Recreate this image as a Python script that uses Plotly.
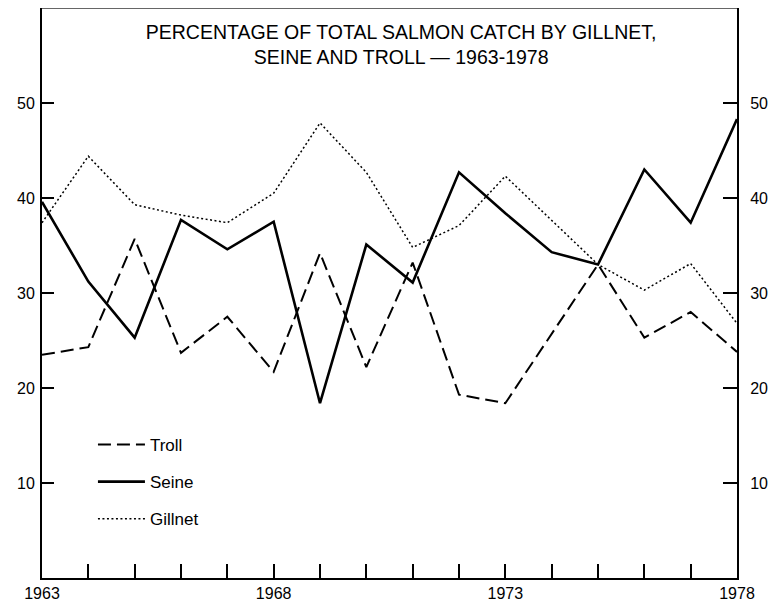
import plotly.graph_objects as go

years = list(range(1963, 1979))
troll = [23.5, 24.3, 35.7, 23.7, 27.5, 21.7, 34.2, 22.2, 33.2, 19.3, 18.4, 25.7, 33.0, 25.3, 28.0, 23.8]
seine = [39.6, 31.2, 25.3, 37.7, 34.6, 37.5, 18.4, 35.1, 31.1, 42.7, 38.4, 34.3, 33.0, 43.0, 37.4, 48.3]
gillnet = [37.4, 44.4, 39.3, 38.2, 37.4, 40.5, 47.9, 42.7, 34.8, 37.1, 42.3, 37.7, 33.0, 30.3, 33.1, 26.8]

x_labels = {1963: "1963", 1968: "1968", 1973: "1973", 1978: "1978"}
y_ticks = [10, 20, 30, 40, 50]

FONT = "Liberation Sans"

fig = go.Figure()
fig.add_trace(go.Scatter(x=years, y=troll, mode="lines", name="Troll", legendgroup="t",
                         line=dict(color="black", width=2, dash="13px,6px")))
fig.add_trace(go.Scatter(x=years, y=seine, mode="lines", name="Seine", legendgroup="s",
                         line=dict(color="black", width=2.6)))
fig.add_trace(go.Scatter(x=years, y=gillnet, mode="lines", name="Gillnet", legendgroup="g",
                         line=dict(color="black", width=1.5, dash="2px,2.5px")))
# invisible trace for the right axis
fig.add_trace(go.Scatter(x=[years[0]], y=[None], yaxis="y2", showlegend=False, hoverinfo="skip"))

fig.update_layout(
    width=780, height=607,
    paper_bgcolor="white", plot_bgcolor="white",
    margin=dict(l=34, r=51, t=0, b=37),
    font=dict(family=FONT, color="black", size=16),
    title=dict(text="PERCENTAGE OF TOTAL SALMON CATCH BY GILLNET,<br>SEINE AND TROLL \u2014 1963-1978",
               x=0.504, xanchor="center", y=0.949, yanchor="top",
               font=dict(family=FONT, size=19.5, color="black")),
    showlegend=True,
    legend=dict(x=0.0733, y=0.265, xanchor="left", yanchor="top",
                bgcolor="rgba(0,0,0,0)", font=dict(size=17, family=FONT),
                itemwidth=47, traceorder="grouped", tracegroupgap=12),
    xaxis=dict(range=[1963, 1978], tickvals=years,
               ticktext=[x_labels.get(y, "") for y in years],
               ticks="inside", ticklen=14, tickwidth=1.5, tickcolor="black",
               showline=True, linecolor="black", linewidth=2, mirror=False,
               showgrid=False, zeroline=False, tickfont=dict(size=16)),
    yaxis=dict(range=[0, 60], tickvals=y_ticks, ticks="inside", ticklen=12, tickwidth=1.5,
               tickcolor="black", showline=True, linecolor="black", linewidth=2,
               showgrid=False, zeroline=False, tickfont=dict(size=16), ticklabelstandoff=2),
    yaxis2=dict(range=[0, 60], tickvals=y_ticks, overlaying="y", side="right",
                ticks="inside", ticklen=14, tickwidth=1.5, tickcolor="black",
                showline=True, linecolor="black", linewidth=2,
                showgrid=False, zeroline=False, tickfont=dict(size=16), ticklabelstandoff=8),
    shapes=[dict(type="line", xref="paper", yref="paper", x0=0, x1=1, y0=1, y1=1,
                 line=dict(color="#333333", width=1.3))],
)

fig.write_html("out.html")
